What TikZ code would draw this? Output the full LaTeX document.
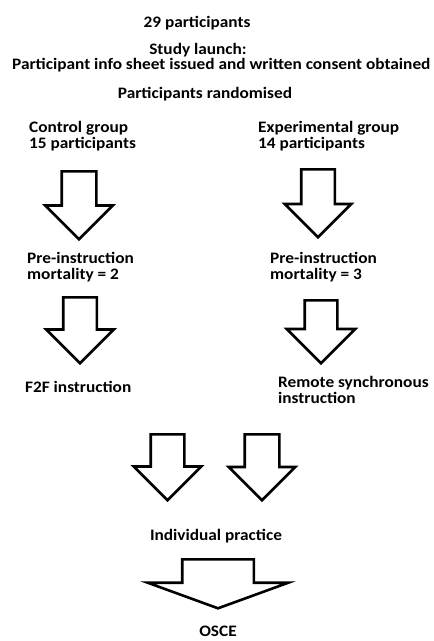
\documentclass[tikz,border=0pt]{standalone}
\usepackage{fontspec}
\setmainfont{Carlito}[FakeStretch=1.08]
\usetikzlibrary{shapes.arrows}
\begin{document}
\begin{tikzpicture}[x=1pt, y=-1pt,
  lbl/.style={font=\fontsize{16}{16}\selectfont\bfseries, inner sep=0pt, align=left},
  blockarrow/.style={single arrow, shape border rotate=270, draw, line width=2.6pt,
    fill=white, single arrow head indent=0pt, inner ysep=0pt, anchor=tail}]
\useasboundingbox (0,0) rectangle (434,641);
% header
\node[lbl, anchor=base] (total) at (197,27) {29 participants};
\node[lbl, anchor=base] (launch) at (198,54) {Study launch:};
\node[lbl, anchor=base west] (consent) at (12,69) {Participant info sheet issued and written consent obtained};
\node[lbl, anchor=base] (rand) at (205,98) {Participants randomised};
% the two arms (base = last line)
\node[lbl, anchor=base west] (ctrl) at (29,148) {Control group\\15 participants};
\node[lbl, anchor=base west] (expt) at (258,148) {Experimental group\\14 participants};
\node[lbl, anchor=base west] (ctrlmort) at (27,279) {Pre-instruction\\mortality = 2};
\node[lbl, anchor=base west] (exptmort) at (270,279) {Pre-instruction\\mortality = 3};
\node[lbl, anchor=base west] (f2f) at (25,392) {F2F instruction};
\node[lbl, anchor=base west] (remote) at (278,403) {Remote synchronous\\instruction};
% joint part
\node[lbl, anchor=base] (practice) at (216,540) {Individual practice};
\node[lbl, anchor=base] (osce) at (218,636) {OSCE};
\foreach \name/\x/\top/\len/\sh/\ext in {ctrlarr/79/170/68/16/16.5,
                                          exptarr/318/168/68/15.5/16.5,
                                          f2farr/80/296/66/15.5/17,
                                          remotearr/321/299/63/15/18,
                                          joinl/167.5/433/66/15.5/17,
                                          joinr/262/433/66/16/16} {
  \node[blockarrow, inner xsep=\sh pt, minimum height=\len pt,
        single arrow head extend=\ext pt] (\name) at (\x,\top) {};
}
\node[blockarrow, inner xsep=34.5pt, minimum height=49pt, single arrow head extend=34.5pt,
      single arrow tip angle=140] (osceArr) at (218,558) {};
\end{tikzpicture}
\end{document}
